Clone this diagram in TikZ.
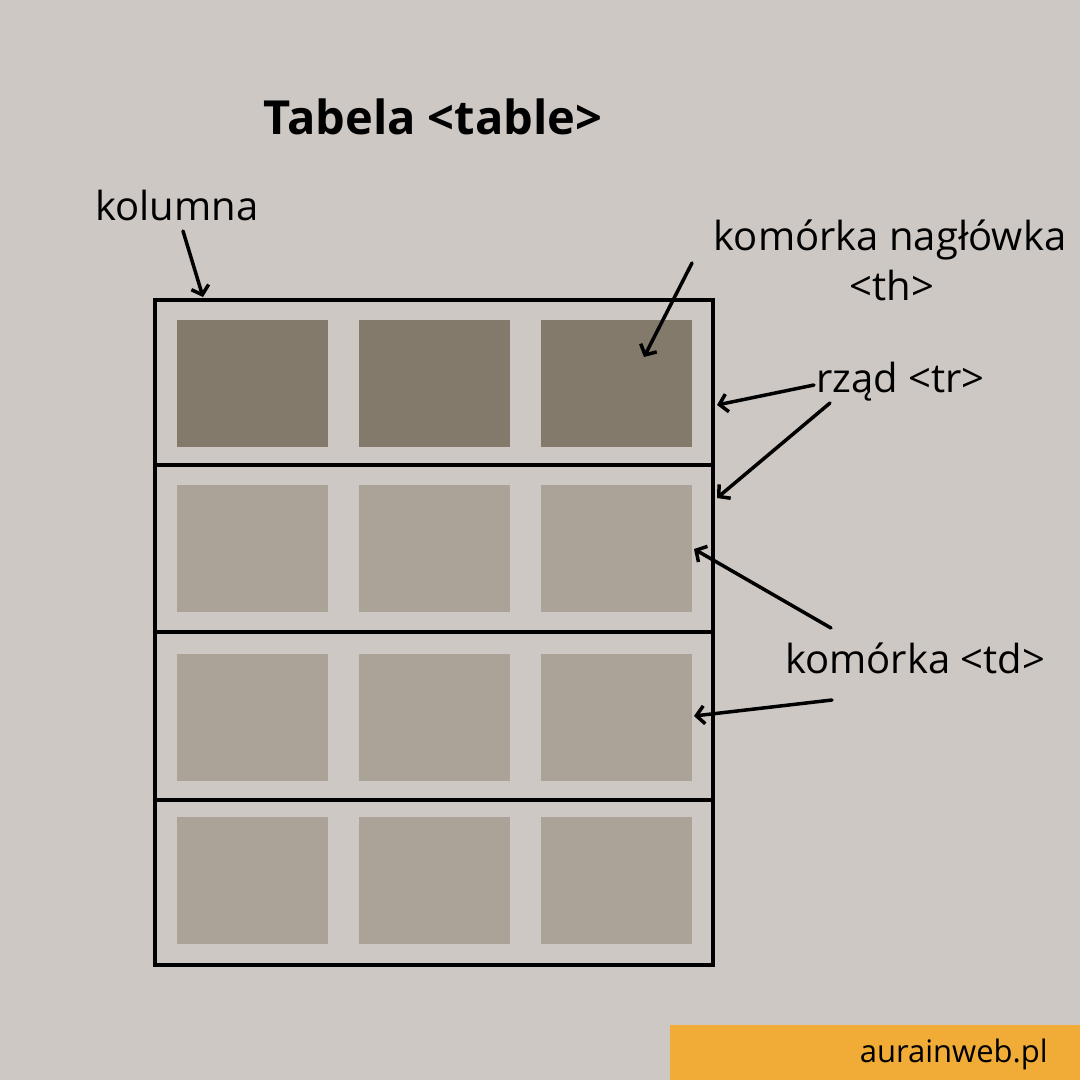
\documentclass[tikz,border=0pt]{standalone}
\usepackage{fontspec}
\setmainfont{Open Sans}
\usetikzlibrary{arrows.meta}
\definecolor{bgcol}{HTML}{CDC8C4}
\definecolor{thcol}{HTML}{837A6C}
\definecolor{tdcol}{HTML}{ACA398}
\definecolor{tagcol}{HTML}{F0AC36}
\tikzstyle{thcell}=[rectangle, fill=thcol, inner sep=0pt, minimum width=151pt, minimum height=127pt]
\tikzstyle{tdcell}=[rectangle, fill=tdcol, inner sep=0pt, minimum width=151pt, minimum height=127pt]
\tikzstyle{grid}=[line width=3.5pt, draw=black]
\tikzstyle{lbl}=[inner sep=0pt, font=\fontsize{40}{48}\selectfont]
\tikzstyle{ptr}=[line width=3.5pt, line cap=round, -{Straight Barb[length=8pt,width=18pt,line width=3.5pt]}]

\begin{document}
\begin{tikzpicture}[x=1pt,y=-1pt]
    \fill[bgcol] (0,0) rectangle (1080,1080);
    \useasboundingbox (0,0) rectangle (1080,1080);
    \fill[tagcol] (670,1025) rectangle (1080,1080);
    \foreach \c/\x in {1/252.5, 2/434.5, 3/616.5} {
      \node[thcell] (h\c) at (\x,383.5) {};
      \foreach \r/\y in {2/548.5, 3/717.5, 4/880.5}
        \node[tdcell] (d\r\c) at (\x,\y) {};
    }
    \draw[grid] (155,300) rectangle (713,965);
    \foreach \y in {465, 632, 800}
      \draw[grid] (155,\y) -- (713,\y);
    \node[anchor=base, inner sep=0pt, font=\fontsize{47}{56}\selectfont\bfseries] (title) at (433,134) {Tabela <table>};
    \node[lbl, anchor=base west] (kol) at (95,220) {kolumna};
    \node[lbl, anchor=base] (nagl) at (890,250) {komórka nagłówka};
    \node[lbl, anchor=base] (thtag) at (892,300) {<th>};
    \node[lbl, anchor=base west] (rzad) at (816,392) {rząd <tr>};
    \node[lbl, anchor=base west] (kom) at (785,673) {komórka <td>};
    \node[anchor=base east, inner sep=0pt, font=\fontsize{31}{37}\selectfont] (site) at (1048,1062) {aurainweb.pl};
    \coordinate (k0) at (183,231);  \coordinate (k1) at (203,297);
    \coordinate (n0) at (692,263);  \coordinate (n1) at (644,357);
    \coordinate (r0) at (814,385);  \coordinate (r1) at (717,405);
    \coordinate (s0) at (830,403);  \coordinate (s1) at (717,498);
    \coordinate (t0) at (831,628);  \coordinate (t1) at (694,549);
    \coordinate (u0) at (832,700);  \coordinate (u1) at (694,716);
    \foreach \from/\to in {k0/k1, n0/n1, r0/r1, s0/s1, t0/t1, u0/u1}
      \draw[ptr] (\from) -- (\to);
\end{tikzpicture}
\end{document}
